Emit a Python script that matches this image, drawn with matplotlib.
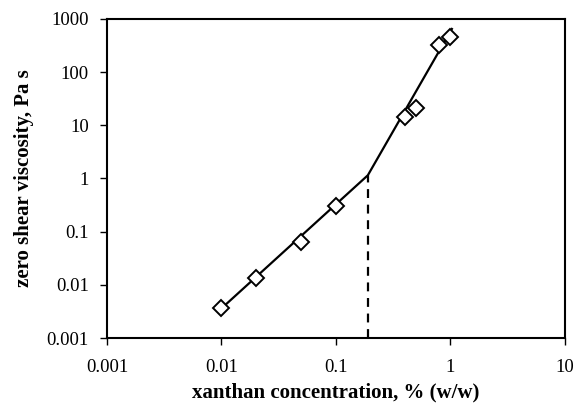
import numpy as np
import matplotlib.pyplot as plt
import matplotlib.ticker as mticker

plt.rcParams['font.family'] = ['Liberation Serif', 'DejaVu Serif']

# measured points
conc = [0.01, 0.02, 0.05, 0.1, 0.4, 0.5, 0.8, 1.0]
visc = [0.0037, 0.0136, 0.063, 0.31, 14.4, 21.5, 320, 450]

# fitted power-law lines
fit_x = [0.01, 0.19, 1.03]
fit_y = [0.0036, 1.15, 650]

# critical concentration
c_star = 0.19
c_star_visc = 1.15

fig = plt.figure(figsize=(5.77, 4.11), dpi=100)
ax = fig.add_axes([0.1854, 0.1776, 0.7936, 0.7762])

ax.plot(fit_x, fit_y, color='black', lw=1.6, zorder=2)
ax.plot([c_star, c_star], [0.001, c_star_visc], color='black', lw=1.6,
        ls=(0, (4, 3)), zorder=2)
ax.plot(conc, visc, ls='none', marker='D', markersize=8.3, markerfacecolor='white',
        markeredgecolor='black', markeredgewidth=1.4, zorder=3)

ax.set_xscale('log')
ax.set_yscale('log')
ax.set_xlim(0.001, 10)
ax.set_ylim(0.001, 1000)

ax.xaxis.set_major_locator(mticker.FixedLocator([0.001, 0.01, 0.1, 1, 10]))
ax.yaxis.set_major_locator(mticker.FixedLocator([0.001, 0.01, 0.1, 1, 10, 100, 1000]))
ax.xaxis.set_minor_locator(mticker.NullLocator())
ax.yaxis.set_minor_locator(mticker.NullLocator())
ax.xaxis.set_major_formatter(mticker.FixedFormatter(['0.001', '0.01', '0.1', '1', '10']))
ax.yaxis.set_major_formatter(mticker.FixedFormatter(['0.001', '0.01', '0.1', '1', '10', '100', '1000']))

ax.tick_params(axis='both', which='major', direction='out', length=5, width=1,
               labelsize=13.5)
ax.tick_params(axis='x', pad=10)
ax.tick_params(axis='y', pad=8)

for s in ax.spines.values():
    s.set_linewidth(1.5)

ax.set_xlabel('xanthan concentration, % (w/w)', fontsize=15, fontweight='bold', labelpad=5)
ax.set_ylabel('zero shear viscosity, Pa s', fontsize=15, fontweight='bold', labelpad=9)

fig.savefig('out.png', dpi=100)
